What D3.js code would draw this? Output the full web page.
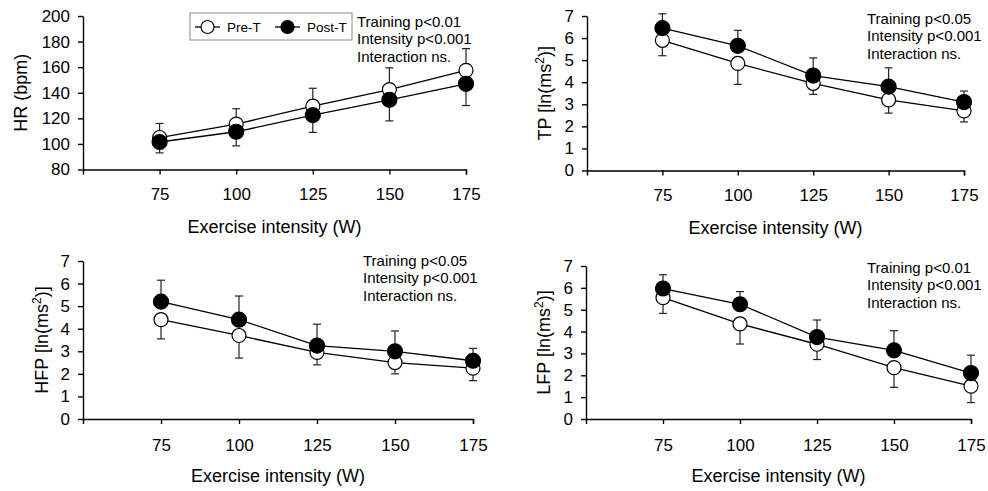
<!DOCTYPE html>
<html>
<head>
<meta charset="utf-8">
<script src="https://cdn.jsdelivr.net/npm/d3@7"></script>
<style>
  body { margin: 0; background: #fff; }
  text { font-family: "Liberation Sans", Arial, sans-serif; fill: #000; }
</style>
</head>
<body>
<div id="chart"></div>
<script>
// exercise intensities (W)
const intensity = [75, 100, 125, 150, 175];

// heart rate (bpm), mean and SD
const hrPre = [105, 115.5, 129.5, 142.5, 157.5];
const hrPreSD = [11, 12, 14, 17, 17];
const hrPost = [101.5, 109.5, 122.5, 134.5, 147];
const hrPostSD = [8.5, 11, 13.5, 16.5, 17];

// total power ln(ms2)
const tpPre = [5.9, 4.85, 3.95, 3.2, 2.7];
const tpPreSD = [0.7, 0.95, 0.5, 0.6, 0.5];
const tpPost = [6.45, 5.65, 4.3, 3.8, 3.1];
const tpPostSD = [0.65, 0.7, 0.8, 0.85, 0.5];

// high frequency power ln(ms2)
const hfpPre = [4.4, 3.7, 2.95, 2.5, 2.25];
const hfpPreSD = [0.85, 1.0, 0.55, 0.5, 0.55];
const hfpPost = [5.2, 4.4, 3.25, 3.0, 2.58];
const hfpPostSD = [0.95, 1.05, 0.95, 0.9, 0.55];

// low frequency power ln(ms2)
const lfpPre = [5.55, 4.35, 3.42, 2.35, 1.5];
const lfpPreSD = [0.72, 0.92, 0.7, 0.9, 0.75];
const lfpPost = [5.97, 5.25, 3.75, 3.14, 2.1];
const lfpPostSD = [0.63, 0.58, 0.78, 0.9, 0.82];

// tick labels
const hrTicks = [80, 100, 120, 140, 160, 180, 200];
const hrvTicks = [0, 1, 2, 3, 4, 5, 6, 7];

// statistics notes
const hrStats = ["Training p<0.01", "Intensity p<0.001", "Interaction ns."];
const tpStats = ["Training p<0.05", "Intensity p<0.001", "Interaction ns."];
const hfpStats = ["Training p<0.05", "Intensity p<0.001", "Interaction ns."];
const lfpStats = ["Training p<0.01", "Intensity p<0.001", "Interaction ns."];

const seriesNames = ["Pre-T", "Post-T"];

const width = 988, height = 491;

const svg = d3.select("#chart").append("svg")
    .attr("width", width)
    .attr("height", height);

const panels = [
  { title: "HR (bpm)", sup: false, pre: hrPre, preSD: hrPreSD, post: hrPost, postSD: hrPostSD,
    ticks: hrTicks, stats: hrStats, preUp: true,
    left: 83, right: 466, top: 16, bottom: 169.5, xPad: 13, titleX: 21, statX: 357, statY: 27 },
  { title: "TP [ln(ms", sup: true, pre: tpPre, preSD: tpPreSD, post: tpPost, postSD: tpPostSD,
    ticks: hrvTicks, stats: tpStats, preUp: false,
    left: 587, right: 964, top: 16, bottom: 170.5, xPad: 13, titleX: 545, statX: 867, statY: 24 },
  { title: "HFP [ln(ms", sup: true, pre: hfpPre, preSD: hfpPreSD, post: hfpPost, postSD: hfpPostSD,
    ticks: hrvTicks, stats: hfpStats, preUp: false,
    left: 83, right: 473, top: 261, bottom: 419, xPad: 15, titleX: 42, statX: 363, statY: 266 },
  { title: "LFP [ln(ms", sup: true, pre: lfpPre, preSD: lfpPreSD, post: lfpPost, postSD: lfpPostSD,
    ticks: hrvTicks, stats: lfpStats, preUp: false,
    left: 586, right: 971, top: 266, bottom: 419, xPad: 15, titleX: 544, statX: 867, statY: 273 }
];

panels.forEach(drawPanel);

function drawPanel(p) {
  const x = d3.scaleLinear().domain([50, 175]).range([p.left, p.right]);
  const y = d3.scaleLinear().domain(d3.extent(p.ticks)).range([p.bottom, p.top]);
  const g = svg.append("g");

  // axes
  const xAxis = g.append("g")
      .attr("transform", `translate(0,${p.bottom})`)
      .call(d3.axisBottom(x).tickValues(intensity).tickFormat(d3.format("d"))
        .tickSize(5).tickSizeOuter(5).tickPadding(p.xPad));
  const yAxis = g.append("g")
      .attr("transform", `translate(${p.left},0)`)
      .call(d3.axisLeft(y).tickValues(p.ticks).tickFormat(d3.format("d"))
        .tickSize(5).tickSizeOuter(0).tickPadding(8));
  [xAxis, yAxis].forEach(a => {
    a.selectAll("path, line").attr("stroke", "#000").attr("stroke-width", 1.4);
    a.selectAll("text").style("font-size", "17px").attr("fill", "#000");
  });

  // axis titles
  g.append("text")
      .attr("x", (p.left + p.right) / 2)
      .attr("y", p.bottom + 63)
      .attr("text-anchor", "middle")
      .style("font-size", "18px")
      .text("Exercise intensity (W)");

  const yt = g.append("text")
      .attr("transform", `translate(${p.titleX},${(p.top + p.bottom) / 2}) rotate(-90)`)
      .attr("text-anchor", "middle")
      .attr("dy", "0.35em")
      .style("font-size", "18px")
      .text(p.title);
  if (p.sup) {
    yt.append("tspan").attr("dy", -7).style("font-size", "12px").text("2");
    yt.append("tspan").attr("dy", 7).text(")]");
  }

  // stats note
  g.append("g").selectAll("text")
    .data(p.stats)
    .join("text")
      .attr("x", p.statX)
      .attr("y", (d, i) => p.statY + i * 17.3)
      .style("font-size", "15px")
      .text(d => d);

  const line = d3.line().x((d, i) => x(intensity[i])).y(d => y(d));

  const series = [
    { vals: p.pre, sd: p.preSD, up: p.preUp, filled: false },
    { vals: p.post, sd: p.postSD, up: !p.preUp, filled: true }
  ];

  series.forEach(s => {
    // error bars
    const tip = (d, i) => y(s.up ? d + s.sd[i] : d - s.sd[i]);
    const eb = g.append("g").attr("stroke", "#222").attr("stroke-width", 1.2);
    eb.selectAll("line.stem")
      .data(s.vals)
      .join("line")
        .attr("class", "stem")
        .attr("x1", (d, i) => x(intensity[i]))
        .attr("x2", (d, i) => x(intensity[i]))
        .attr("y1", d => y(d))
        .attr("y2", tip);
    eb.selectAll("line.cap")
      .data(s.vals)
      .join("line")
        .attr("class", "cap")
        .attr("x1", (d, i) => x(intensity[i]) - 4)
        .attr("x2", (d, i) => x(intensity[i]) + 4)
        .attr("y1", tip)
        .attr("y2", tip);

    g.append("path")
        .datum(s.vals)
        .attr("fill", "none")
        .attr("stroke", "#000")
        .attr("stroke-width", 1.3)
        .attr("d", line);

    g.append("g").selectAll("circle")
      .data(s.vals)
      .join("circle")
        .attr("cx", (d, i) => x(intensity[i]))
        .attr("cy", d => y(d))
        .attr("r", s.filled ? 7.5 : 7)
        .attr("fill", s.filled ? "#000" : "#fff")
        .attr("stroke", "#000")
        .attr("stroke-width", 1.2);
  });
}

// legend (top-left panel)
const legend = svg.append("g");
legend.append("rect")
    .attr("x", 190).attr("y", 13)
    .attr("width", 162).attr("height", 27)
    .attr("fill", "#fff")
    .attr("stroke", "#888")
    .attr("stroke-width", 1);
const legendX = [195, 275];
seriesNames.forEach((name, i) => {
  const lx = legendX[i];
  legend.append("line")
      .attr("x1", lx).attr("x2", lx + 25)
      .attr("y1", 27).attr("y2", 27)
      .attr("stroke", "#000").attr("stroke-width", 1.3);
  legend.append("circle")
      .attr("cx", lx + 12.5).attr("cy", 27)
      .attr("r", 6.5)
      .attr("fill", i === 0 ? "#fff" : "#000")
      .attr("stroke", "#000").attr("stroke-width", 1.2);
  legend.append("text")
      .attr("x", lx + 32).attr("y", 32)
      .style("font-size", "13.5px")
      .text(name);
});
</script>
</body>
</html>
